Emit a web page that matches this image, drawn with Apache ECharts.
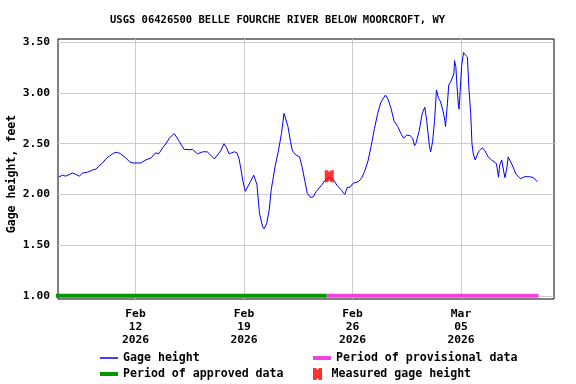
<!DOCTYPE html>
<html>
<head>
<meta charset="utf-8">
<script src="https://cdn.jsdelivr.net/npm/echarts@6/dist/echarts.min.js"></script>
<style>
  html, body { margin: 0; padding: 0; background: #fff; }
  #chart { width: 576px; height: 384px; }
</style>
</head>
<body>
<div id="chart"></div>
<script>
// ---- Data ----
const START = '2026-02-07 00:00';
const hoursAfterStart = [
  1, 7, 12, 22, 27, 33, 38, 46, 53, 59, 63, 69, 74, 80, 87, 92, 97, 105, 111, 116,
  128, 136, 144, 151, 156, 162, 167, 173, 180, 183, 188, 195, 203, 208, 216, 224, 231, 236, 242, 245,
  252, 257, 261, 265, 269, 273, 277, 280, 283, 286, 290, 293, 298, 303, 306, 308, 312, 317, 319, 323,
  327, 330, 336, 341, 346, 350, 353, 356, 360, 363, 368, 374, 378, 382, 386, 391, 395, 400, 408, 413,
  420, 427, 432, 439, 444, 448, 452, 457, 465, 470, 475, 480, 485, 490, 495, 500, 507, 511, 516, 520,
  526, 531, 535, 540, 545, 549, 552, 554, 559, 564, 568, 571, 575, 577, 580, 583, 586, 589, 592, 596,
  599, 600, 603, 605, 608, 611, 613, 614, 616, 618, 620, 621, 623, 625, 628, 630, 634, 636, 639, 641,
  643, 646, 648, 651, 657, 661, 666, 671, 676, 679, 682, 684, 687, 690, 692, 695, 697, 700, 704, 709,
  716, 723, 729, 734, 738, 742
];
const gageHeight = [
  2.17, 2.19, 2.18, 2.21, 2.20, 2.18, 2.21, 2.22, 2.24, 2.25, 2.28, 2.31, 2.35, 2.38, 2.41, 2.415, 2.40, 2.36, 2.32, 2.31,
  2.31, 2.34, 2.36, 2.41, 2.40, 2.46, 2.50, 2.56, 2.60, 2.59, 2.52, 2.445, 2.44, 2.445, 2.40, 2.42, 2.42, 2.39, 2.35, 2.355,
  2.43, 2.50, 2.46, 2.40, 2.41, 2.42, 2.41, 2.36, 2.26, 2.14, 2.03, 2.03, 2.125, 2.19, 2.19, 2.10, 1.81, 1.68, 1.66, 1.71,
  1.845, 2.04, 2.27, 2.42, 2.60, 2.80, 2.785, 2.67, 2.52, 2.43, 2.39, 2.37, 2.27, 2.14, 2.01, 1.97, 1.975, 2.03, 2.09, 2.135,
  2.17, 2.14, 2.09, 2.04, 2.00, 2.07, 2.07, 2.11, 2.125, 2.16, 2.23, 2.33, 2.48, 2.65, 2.80, 2.91, 2.98, 2.94, 2.84, 2.73,
  2.67, 2.60, 2.555, 2.585, 2.58, 2.555, 2.48, 2.50, 2.62, 2.80, 2.86, 2.72, 2.48, 2.42, 2.52, 2.72, 3.03, 2.95, 2.92, 2.83,
  2.73, 2.67, 2.90, 3.08, 3.11, 3.10, 3.19, 3.32, 3.26, 3.05, 2.88, 2.84, 3.05, 3.27, 3.40, 3.38, 3.355, 3.07, 2.80, 2.50,
  2.40, 2.34, 2.335, 2.42, 2.46, 2.43, 2.37, 2.34, 2.32, 2.30, 2.17, 2.29, 2.34, 2.23, 2.165, 2.26, 2.37, 2.37, 2.28, 2.20,
  2.155, 2.175, 2.175, 2.17, 2.155, 2.125
];
const approvedPeriod = ['2026-02-06 20:00', '2026-02-24 08:00'];
const provisionalPeriod = ['2026-02-24 08:00', '2026-03-10 00:00'];
const periodLevel = 1.00;
const measuredTimes = ['2026-02-24 12:00'];
const measuredHeights = [2.18];
const xRange = ['2026-02-07 00:00', '2026-03-11 00:00'];
const xTickDates = ['2026-02-12 00:00', '2026-02-19 00:00', '2026-02-26 00:00', '2026-03-05 00:00'];
const yRange = [0.968, 3.533];
const yTickValues = [1.00, 1.50, 2.00, 2.50, 3.00, 3.50];
const monthNames = ['Jan','Feb','Mar','Apr','May','Jun','Jul','Aug','Sep','Oct','Nov','Dec'];

// ---- helpers ----
function ts(s) {
  const [d, h] = s.split(' ');
  const [Y, M, D] = d.split('-').map(Number);
  const [hh, mm] = (h || '00:00').split(':').map(Number);
  return new Date(Y, M - 1, D, hh, mm).getTime();
}
const startMs = ts(START);
const gageData = hoursAfterStart.map((h, i) => [startMs + h * 3600000, gageHeight[i]]);
const approvedData = approvedPeriod.map(s => [ts(s), periodLevel]);
const provisionalData = provisionalPeriod.map(s => [ts(s), periodLevel]);
const measuredData = measuredTimes.map((s, i) => [ts(s), measuredHeights[i]]);
const xTicks = xTickDates.map(ts);

const FONT = 'DejaVu Sans Mono';
const markerPath = 'path://M0,0 L3,0 L4.5,2 L6,0 L9,0 L9,12 L6,12 L4.5,10 L3,12 L0,12 Z';
const legendText = { fontFamily: FONT, fontWeight: 'bold', fontSize: 11.6, color: '#000' };

const chart = echarts.init(document.getElementById('chart'), null, { renderer: 'canvas' });
chart.setOption({
  animation: false,
  backgroundColor: '#fff',
  title: {
    text: 'USGS 06426500 BELLE FOURCHE RIVER BELOW MOORCROFT, WY',
    left: 110, top: 15,
    padding: 0,
    textStyle: { fontFamily: FONT, fontWeight: 'bold', fontSize: 10.5, color: '#000' }
  },
  grid: {
    left: 58, top: 39, width: 496, height: 260,
    outerBoundsMode: 'none',
    show: true, borderColor: '#000', borderWidth: 1, backgroundColor: 'transparent',
    containLabel: false
  },
  xAxis: {
    type: 'value',
    min: ts(xRange[0]), max: ts(xRange[1]),
    axisLine: { show: false },
    axisTick: { show: false, customValues: xTicks },
    splitLine: { show: true, lineStyle: { color: '#cccccc', width: 1 } },
    axisLabel: {
      customValues: xTicks,
      margin: 9,
      fontFamily: FONT, fontWeight: 'bold', fontSize: 11.3, color: '#000', lineHeight: 13,
      formatter: function (v) {
        const d = new Date(v);
        const day = String(d.getDate()).padStart(2, '0');
        return monthNames[d.getMonth()] + '\n' + day + '\n' + d.getFullYear();
      }
    }
  },
  yAxis: {
    type: 'value',
    min: yRange[0], max: yRange[1],
    name: 'Gage height, feet',
    nameLocation: 'middle',
    nameGap: 40,
    nameMoveOverlap: false,
    nameTextStyle: { fontFamily: FONT, fontWeight: 'bold', fontSize: 11.6, color: '#000', padding: [0, 10, 0, 0] },
    axisLine: { show: false },
    axisTick: { show: false, customValues: yTickValues },
    splitLine: { show: true, lineStyle: { color: '#cccccc', width: 1 } },
    axisLabel: {
      customValues: yTickValues,
      margin: 8,
      fontFamily: FONT, fontWeight: 'bold', fontSize: 11.3, color: '#000',
      formatter: v => v.toFixed(2)
    }
  },
  legend: [
    { data: [{ name: 'Gage height', icon: 'rect' }], left: 100, top: 352, padding: 0,
      itemWidth: 18, itemHeight: 1.5, textStyle: legendText, selectedMode: false },
    { data: [{ name: 'Period of approved data', icon: 'rect' }], left: 100, top: 368, padding: 0,
      itemWidth: 18, itemHeight: 4, textStyle: legendText, selectedMode: false },
    { data: [{ name: 'Period of provisional data', icon: 'rect' }], left: 313, top: 352, padding: 0,
      itemWidth: 18, itemHeight: 4, textStyle: legendText, selectedMode: false },
    { data: [{ name: 'Measured gage height', icon: markerPath }], left: 313, top: 368, padding: 0,
      itemWidth: 18, itemHeight: 12, textStyle: legendText, selectedMode: false }
  ],
  series: [
    {
      name: 'Period of approved data', type: 'line', data: approvedData,
      showSymbol: false, symbol: 'none', clip: false,
      lineStyle: { color: '#009900', width: 4, cap: 'butt' }, itemStyle: { color: '#009900' }, z: 3
    },
    {
      name: 'Period of provisional data', type: 'line', data: provisionalData,
      showSymbol: false, symbol: 'none', clip: false,
      lineStyle: { color: '#ee44dd', width: 4, cap: 'butt' }, itemStyle: { color: '#ee44dd' }, z: 3
    },
    {
      name: 'Gage height', type: 'line', data: gageData,
      showSymbol: false, symbol: 'none',
      lineStyle: { color: '#0000ff', width: 1 }, itemStyle: { color: '#0000ff' }, z: 4
    },
    {
      name: 'Measured gage height', type: 'scatter', data: measuredData,
      symbol: markerPath, symbolSize: [9, 12],
      itemStyle: { color: '#ff0000' }, z: 5
    }
  ]
});
</script>
</body>
</html>
